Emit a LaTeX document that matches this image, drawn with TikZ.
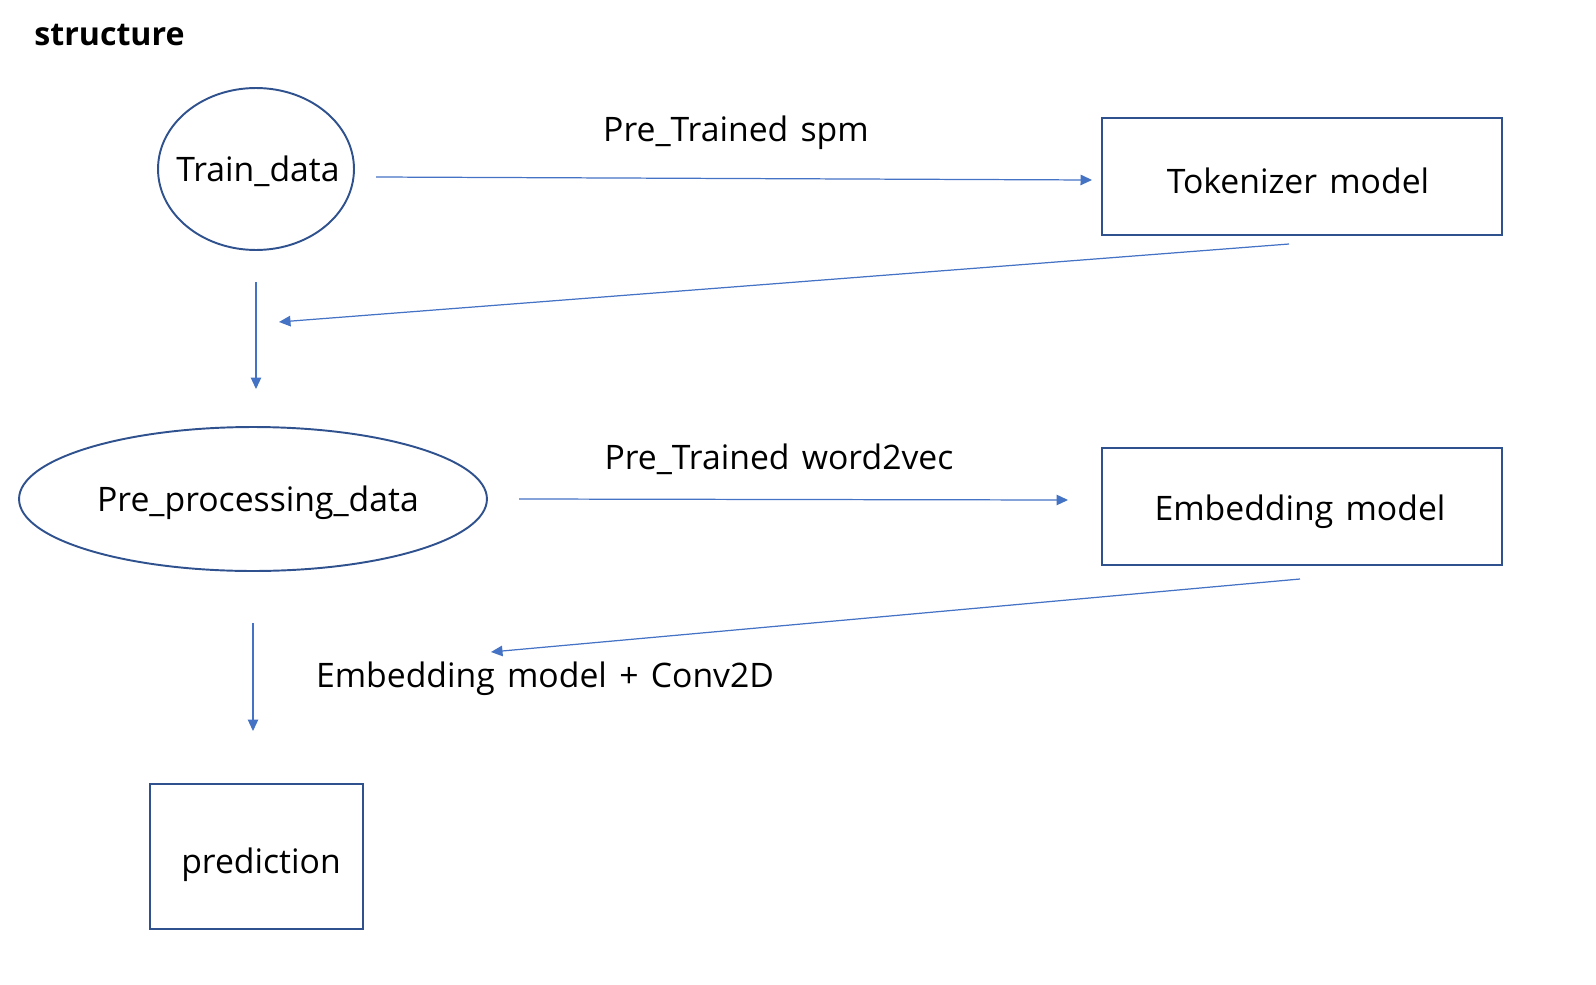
\documentclass[tikz,border=0pt]{standalone}
\usepackage{fontspec}
\setmainfont[WordSpace=1.4]{Open Sans}
\usetikzlibrary{positioning}
\usetikzlibrary{shapes.geometric}
\usetikzlibrary{arrows.meta}
\definecolor{shapeblue}{HTML}{2F528F}
\definecolor{linkblue}{HTML}{4472C4}
\tikzset{
	datanode/.style={ellipse,draw=shapeblue,line width=1.1pt,inner sep=0pt},
	modelbox/.style={rectangle,draw=shapeblue,line width=1.1pt,inner sep=0pt},
	link/.style={draw=linkblue,line width=0.7pt,-{Triangle[length=2.3mm,width=2.1mm]}},
	lbl/.style={inner sep=0pt}
}
\begin{document}
\begin{tikzpicture}[x=0.02cm,y=-0.02cm,font=\fontsize{19.2}{24}\selectfont]
	\useasboundingbox (0,0) rectangle (1596,984);
	\node[lbl,anchor=west,font=\fontsize{18.3}{22}\selectfont\bfseries] (title) at (34,35) {structure};
	% data nodes
	\node[datanode,minimum width=3.92cm,minimum height=3.24cm] (train) at (256,169) {};
	\node[lbl] (traintxt) at (258,171) {Train\_data};
	\node[datanode,minimum width=9.36cm,minimum height=2.88cm] (pre) at (253,499) {};
	\node[lbl] (pretxt) at (258,503) {Pre\_processing\_data};
	% models
	\node[modelbox,minimum width=8cm,minimum height=2.34cm] (tok) at (1302,176.5) {};
	\node[lbl] (toktxt) at (1298,181) {Tokenizer model};
	\node[modelbox,minimum width=8cm,minimum height=2.34cm] (emb) at (1302,506.5) {};
	\node[lbl] (embtxt) at (1300,512) {Embedding model};
	\node[modelbox,minimum width=4.26cm,minimum height=2.9cm] (pred) at (256.5,856.5) {};
	\node[lbl] (predtxt) at (261,865) {prediction};
	% labels
	\node[lbl] (spm) at (736,133) {Pre\_Trained spm};
	\node[lbl] (w2v) at (779,459) {Pre\_Trained word2vec};
	\node[lbl] (conv) at (545,679) {Embedding model + Conv2D};
	% arrow ends
	\coordinate (a1) at (376,177); \coordinate (a2) at (1092,180);
	\coordinate (b1) at (1289,244); \coordinate (b2) at (279,322);
	\coordinate (c1) at (256,282); \coordinate (c2) at (256,389);
	\coordinate (d1) at (519,499); \coordinate (d2) at (1068,500);
	\coordinate (e1) at (1300,579); \coordinate (e2) at (491,652);
	\coordinate (f1) at (253,623); \coordinate (f2) at (253,731);
	\draw[link] (a1) -- (a2);
	\draw[link] (b1) -- (b2);
	\draw[link] (c1) -- (c2);
	\draw[link] (d1) -- (d2);
	\draw[link] (e1) -- (e2);
	\draw[link] (f1) -- (f2);
\end{tikzpicture}
\end{document}
